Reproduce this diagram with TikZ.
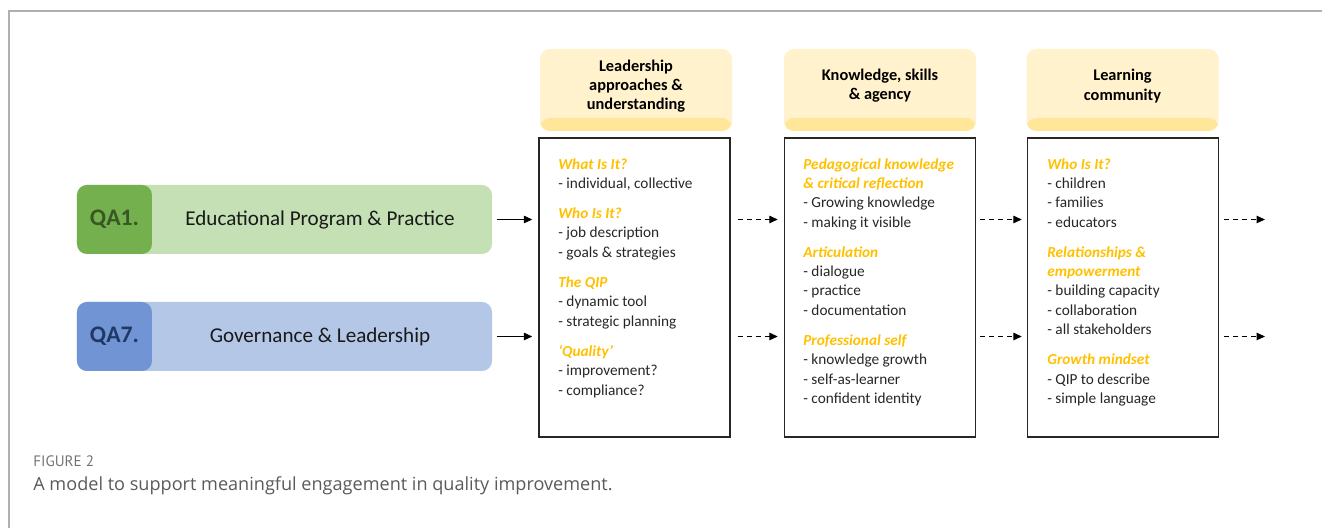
\documentclass[tikz,border=0pt]{standalone}
\usepackage{fontspec}
\setmainfont{Carlito}
\newfontfamily\captionfont{Open Sans}
\newfontfamily\labelfont{PT Sans}
\usetikzlibrary{arrows.meta}
\definecolor{headfill}{HTML}{FFF2CC}
\definecolor{headband}{HTML}{FFE699}
\definecolor{secttext}{HTML}{FFC000}
\definecolor{qaonelight}{HTML}{C5E0B4}
\definecolor{qaonedark}{HTML}{74B04E}
\definecolor{qaonetext}{HTML}{385723}
\definecolor{qasevenlight}{HTML}{B4C7E7}
\definecolor{qasevendark}{HTML}{7094D4}
\definecolor{qaseventext}{HTML}{203864}
\definecolor{framegray}{HTML}{B0B0B0}
\definecolor{capgray}{HTML}{5A5A5A}
\newcommand{\sect}[1]{{\bfseries\itshape\color{secttext}#1}}
\begin{document}
\begin{tikzpicture}[x=0.2mm, y=-0.2mm,
  bar node/.style={rounded corners=2mm, minimum width=83mm, minimum height=13.8mm, inner sep=0pt},
  head node/.style={rounded corners=2mm, fill=headfill, minimum width=38.4mm, minimum height=16.4mm, inner sep=0pt,
    path picture={\fill[headband] (path picture bounding box.south west) rectangle ([yshift=2.6mm]path picture bounding box.south east);}},
  head text/.style={align=center, font=\bfseries\fontsize{9.3}{10.9}\selectfont},
  main box/.style={draw=black!85, line width=0.8pt, minimum width=38.2mm, minimum height=59.8mm, inner sep=0pt},
  box text/.style={anchor=north west, align=left, inner sep=0pt, font=\fontsize{8.7}{11}\selectfont, text=black!85},
  tag text/.style={font=\bfseries\fontsize{13.5}{15}\selectfont},
  bar text/.style={font=\fontsize{12}{14}\selectfont, text=black!90}]
\useasboundingbox (0,0) rectangle (1322,528);
\draw[framegray, line width=1.1pt] (1322,11) -- (9,11) -- (9,528);

\begin{scope}
\node[bar node, fill=qaonelight, path picture={\fill[qaonedark] (path picture bounding box.south west) rectangle ([xshift=15mm]path picture bounding box.north west);}] (bar1) at (284.5,219.5) {};
\node[bar node, fill=qasevenlight, path picture={\fill[qasevendark] (path picture bounding box.south west) rectangle ([xshift=15mm]path picture bounding box.north west);}] (bar7) at (284.5,336.5) {};
\node[tag text, text=qaonetext] (qa1) at (114.5,219.5) {QA1.};
\node[tag text, text=qaseventext] (qa7) at (114.5,336.5) {QA7.};
\node[bar text] (edu) at (320,219.5) {Educational Program \& Practice};
\node[bar text] (gov) at (320,336.5) {Governance \& Leadership};
\end{scope}

\begin{scope}
\node[head node] (hd1) at (636,90) {};
\node[head node] (hd2) at (880,90) {};
\node[head node] (hd3) at (1122.5,90) {};
\node[head text] (hd1txt) at (636,86.5) {Leadership\\approaches \&\\understanding};
\node[head text] (hd2txt) at (880,86) {Knowledge, skills\\\& agency};
\node[head text] (hd3txt) at (1122.5,86) {Learning\\community};
\end{scope}

\begin{scope}
\node[main box] (box1) at (634.5,287.5) {};
\node[main box] (box2) at (880,287.5) {};
\node[main box] (box3) at (1123,287.5) {};
\node[box text] (txt1) at (558,158) {\sect{What Is It?}\\- individual, collective\\[6.2pt]
  \sect{Who Is It?}\\- job description\\- goals \& strategies\\[6.2pt]
  \sect{The QIP}\\- dynamic tool\\- strategic planning\\[6.2pt]
  \sect{`Quality'}\\- improvement?\\- compliance?};
\node[box text] (txt2) at (803,158) {\sect{Pedagogical knowledge}\\\sect{\& critical reflection}\\- Growing knowledge\\- making it visible\\[6.2pt]
  \sect{Articulation}\\- dialogue\\- practice\\- documentation\\[6.2pt]
  \sect{Professional self}\\- knowledge growth\\- self-as-learner\\- confident identity};
\node[box text] (txt3) at (1047,158) {\sect{Who Is It?}\\- children\\- families\\- educators\\[6.2pt]
  \sect{Relationships \&}\\\sect{empowerment}\\- building capacity\\- collaboration\\- all stakeholders\\[6.2pt]
  \sect{Growth mindset}\\- QIP to describe\\- simple language};
\end{scope}

\coordinate (out1) at (1265,219.5);
\coordinate (out7) at (1265,336.5);

\begin{scope}[every edge/.style={draw=black, line width=0.7pt, -{Triangle[length=1.7mm,width=1.5mm]}}]
\draw (bar1.east) edge[shorten <=1mm, shorten >=1.2mm] (bar1.east -| box1.west);
\draw (bar7.east) edge[shorten <=1mm, shorten >=1.2mm] (bar7.east -| box1.west);
\end{scope}
\begin{scope}[every edge/.style={draw=black, line width=0.7pt, dash pattern=on 1mm off 0.8mm, -{Triangle[length=1.7mm,width=1.5mm]}}]
\draw (box1.east |- bar1.east) edge[shorten <=1.4mm, shorten >=1.2mm] (box2.west |- bar1.east);
\draw (box1.east |- bar7.east) edge[shorten <=1.4mm, shorten >=1.2mm] (box2.west |- bar7.east);
\draw (box2.east |- bar1.east) edge[shorten <=0.8mm, shorten >=1mm] (box3.west |- bar1.east);
\draw (box2.east |- bar7.east) edge[shorten <=0.8mm, shorten >=1mm] (box3.west |- bar7.east);
\draw (box3.east |- out1) edge[shorten <=1mm] (out1);
\draw (box3.east |- out7) edge[shorten <=1mm] (out7);
\end{scope}

\node[anchor=west, inner sep=0pt, font=\labelfont\fontsize{8.6}{10}\selectfont, text=capgray!85] (fig) at (33,461) {FIGURE 2};
\node[anchor=west, inner sep=0pt, font=\captionfont\fontsize{10.3}{12}\selectfont, text=capgray] (cap) at (33,486) {A model to support meaningful engagement in quality improvement.};
\end{tikzpicture}
\end{document}
